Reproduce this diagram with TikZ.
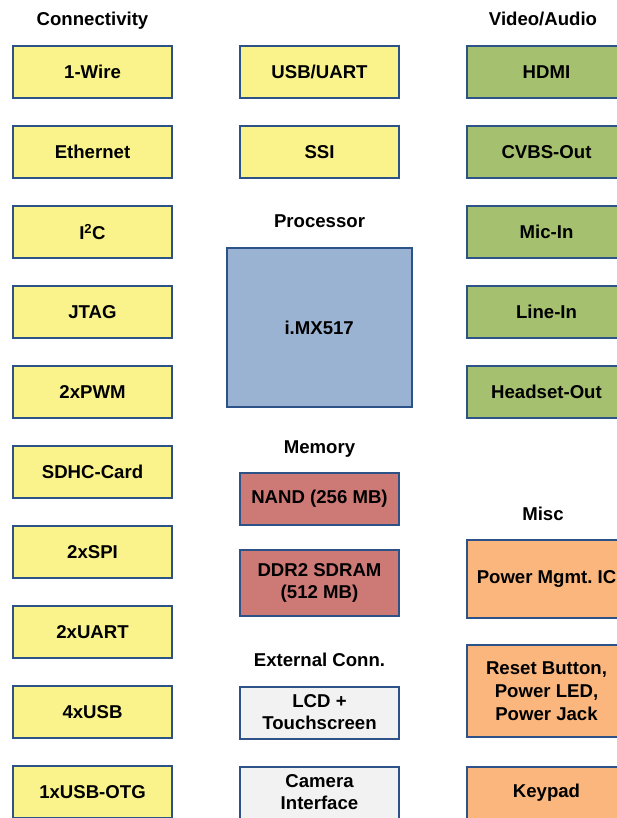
\documentclass[tikz,border=0pt]{standalone}
\usepackage{fontspec}
\setmainfont{Liberation Sans}
\frenchspacing
\definecolor{boxline}{RGB}{44,82,135}
\definecolor{conyellow}{RGB}{250,243,140}
\definecolor{avgreen}{RGB}{165,192,110}
\definecolor{cpublue}{RGB}{155,179,210}
\definecolor{memred}{RGB}{205,121,118}
\definecolor{miscorange}{RGB}{250,182,124}
\definecolor{extgray}{RGB}{242,242,242}
\newcommand{\bsize}{\fontsize{18.6}{22}\selectfont\bfseries}
\begin{document}
\begin{tikzpicture}[x=1pt,y=-1pt]
                        \tikzstyle{blk}=[draw=boxline, line width=2pt, inner sep=0pt, minimum width=159pt, minimum height=52pt, align=center, font=\bsize]
                        \tikzstyle{con}=[blk, fill=conyellow]
                        \tikzstyle{av}=[blk, fill=avgreen]
                        \tikzstyle{mem}=[blk, fill=memred]
                        \tikzstyle{misc}=[blk, fill=miscorange]
                        \tikzstyle{ext}=[blk, fill=extgray]
                        \tikzstyle{head}=[font=\bsize, inner sep=0pt, anchor=base]
                        \useasboundingbox (0,0) rectangle (617,818);
                        \node[head] (hcon) at (92.5,26) {Connectivity};
                        \node[head] (hav) at (543,26) {Video/Audio};
                        \node[head] (hcpu) at (319.5,227.3) {Processor};
                        \node[head] (hmem) at (319.5,453.3) {Memory};
                        \node[head] (hext) at (319.5,666.7) {External Conn.};
                        \node[head] (hmisc) at (543,520) {Misc};
                        \node[con] (onewire) at (92.5,72) {1-Wire};
                        \node[con] (ethernet) at (92.5,152) {Ethernet};
                        \node[con] (iic) at (92.5,232) {I\textsuperscript{2}C};
                        \node[con] (jtag) at (92.5,312) {JTAG};
                        \node[con] (pwm) at (92.5,392) {2xPWM};
                        \node[con] (sdhc) at (92.5,472) {SDHC-Card};
                        \node[con] (spi) at (92.5,552) {2xSPI};
                        \node[con] (uart) at (92.5,632) {2xUART};
                        \node[con] (usb) at (92.5,712) {4xUSB};
                        \node[con] (otg) at (92.5,792) {1xUSB-OTG};
                        \node[con] (usbuart) at (319.5,72) {USB/UART};
                        \node[con] (ssi) at (319.5,152) {SSI};
                        \node[blk, fill=cpublue, minimum width=185pt, minimum height=159pt] (cpu) at (319.2,327.7) {i.MX517};
                        \node[mem] (nand) at (319.5,499) {NAND (256 MB)};
                        \node[mem, minimum height=66pt] (ddr) at (319.5,583) {DDR2 SDRAM\\(512 MB)};
                        \node[ext] (lcd) at (319.5,712.5) {LCD +\\Touchscreen};
                        \node[ext] (camera) at (319.5,792.5) {Camera\\Interface};
                        \node[av] (hdmi) at (546.5,72) {HDMI};
                        \node[av] (cvbs) at (546.5,152) {CVBS-Out};
                        \node[av] (micin) at (546.5,232) {Mic-In};
                        \node[av] (linein) at (546.5,312) {Line-In};
                        \node[av] (headset) at (546.5,392) {Headset-Out};
                        \node[misc, minimum height=78pt] (pmic) at (546.5,579.3) {Power Mgmt. IC};
                        \node[misc, minimum height=91.4pt, font=\fontsize{18.6}{23}\selectfont\bfseries] (reset) at (546.5,691) {Reset Button,\\Power LED,\\Power Jack};
                        \node[misc] (keypad) at (546.5,792.5) {Keypad};
                    \end{tikzpicture}
\end{document}
